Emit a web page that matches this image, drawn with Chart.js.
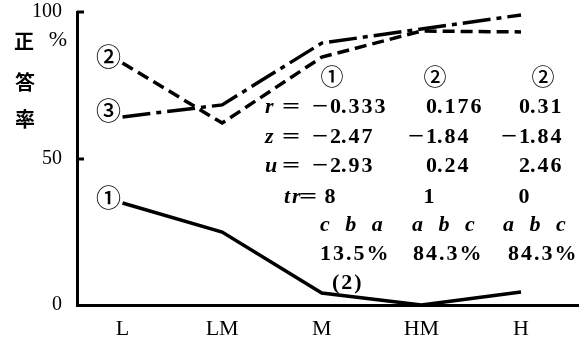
<!DOCTYPE html>
<html>
<head>
<meta charset="utf-8">
<script src="https://cdn.jsdelivr.net/npm/chart.js@4.4.1/dist/chart.umd.min.js"></script>
<style>
  html, body { margin: 0; padding: 0; background: #fff; }
  #wrap { width: 585px; height: 347px; position: relative; }
</style>
</head>
<body>
<div id="wrap"><canvas id="chart"></canvas></div>
<script>
// categories and the three items (percent correct)
const categories = ['L', 'LM', 'M', 'HM', 'H'];
const item1 = [34.8, 24.9, 4.1, 0, 4.4];
const item2 = [82.6, 62.1, 84.6, 93.5, 93.2];
const item3 = [64.2, 68.3, 89.4, 94.2, 99.0];
const seriesMarks = ['①', '②', '③'];
const yTicks = [0, 50, 100];

// statistics printed inside the plot
const statHeads = ['①', '②', '②'];
const rStats = ['−0.333', '0.176', '0.31'];
const zStats = ['−2.47', '−1.84', '−1.84'];
const uStats = ['−2.93', '0.24', '2.46'];
const trStats = ['8', '1', '0'];
const orderStats = ['c b a', 'a b c', 'a b c'];
const pctStats = ['13.5%', '84.3%', '84.3%'];
const noteText = '(2)';

const NUM_FONT = 'bold 22px "Liberation Serif"';
const ITAL_FONT = 'italic bold 22px "Liberation Serif"';
const CJK_FONT = '"Noto Sans CJK JP"';

const toPoints = arr => arr.map((v, i) => ({ x: i, y: v }));

// stretched glyph ("=" and "−" are wide in the printed original)
function wideText(ctx, t, x, y, sx) {
  ctx.save();
  ctx.translate(x, y);
  ctx.scale(sx, 1);
  ctx.textAlign = 'left';
  ctx.fillText(t, 0, 0);
  ctx.restore();
}

const textPlugin = {
  id: 'textPlugin',
  afterDraw(chart) {
    const ctx = chart.ctx;
    const ys = chart.scales.y;
    const area = chart.chartArea;
    ctx.save();
    ctx.fillStyle = '#000';
    ctx.strokeStyle = '#000';

    // inward tick marks on the y axis
    ctx.lineWidth = 3;
    yTicks.filter(v => v > 0).forEach(v => {
      const py = Math.round(ys.getPixelForValue(v));
      ctx.beginPath();
      ctx.moveTo(area.left, py);
      ctx.lineTo(area.left + 7, py);
      ctx.stroke();
    });

    // axis title 正答率 %
    ctx.textBaseline = 'middle';
    ctx.textAlign = 'center';
    ctx.font = 'bold 20px ' + CJK_FONT;
    ctx.fillText('正', 24, 41);
    ctx.fillText('答', 25, 82);
    ctx.fillText('率', 25, 119);
    ctx.font = '22px "Liberation Serif"';
    ctx.fillText('%', 58, 40);

    // circled series marks at the start of each line
    ctx.font = '500 25px ' + CJK_FONT;
    chart.data.datasets.forEach((ds, i) => {
      const p = chart.getDatasetMeta(i).data[0];
      ctx.fillText(seriesMarks[i], p.x - 14, p.y - 6);
    });

    // table heads
    ctx.font = '500 23px ' + CJK_FONT;
    const colCenters = [332, 435, 543];
    statHeads.forEach((t, i) => ctx.fillText(t, colCenters[i], 76));

    // r, z, u rows, aligned on the decimal point
    const decX = [341, 437, 530];
    ctx.letterSpacing = '2px';
    [['r', rStats, 107], ['z', zStats, 137], ['u', uStats, 166]].forEach(([lab, vals, y]) => {
      ctx.textAlign = 'left';
      ctx.font = ITAL_FONT;
      ctx.fillText(lab, 265, y);
      ctx.font = NUM_FONT;
      wideText(ctx, '=', 282, y, 1.45);
      vals.forEach((v, i) => {
        const neg = v.startsWith('−');
        const num = neg ? v.slice(1) : v;
        const k = num.indexOf('.');
        const head = num.slice(0, k);
        ctx.textAlign = 'right';
        ctx.fillText(head, decX[i] + 2, y);
        ctx.textAlign = 'left';
        ctx.fillText(num.slice(k), decX[i], y);
        if (neg) {
          const left = decX[i] + 2 - ctx.measureText(head).width;
          wideText(ctx, '−', left - 18, y, 1.3);
        }
      });
    });

    // tr row
    ctx.textAlign = 'left';
    ctx.font = ITAL_FONT;
    ctx.fillText('tr', 284, 197);
    ctx.font = NUM_FONT;
    wideText(ctx, '=', 299, 197, 1.45);
    ctx.textAlign = 'center';
    [331, 430, 525].forEach((x, i) => ctx.fillText(trStats[i], x, 197));

    // option order row
    ctx.textAlign = 'left';
    ctx.font = ITAL_FONT;
    ctx.letterSpacing = '5px';
    [320, 412, 503].forEach((x, i) => ctx.fillText(orderStats[i], x, 225));

    // percent row
    ctx.font = NUM_FONT;
    ctx.letterSpacing = '2px';
    [320, 413, 508].forEach((x, i) => ctx.fillText(pctStats[i], x, 254));
    ctx.fillText(noteText, 332, 283);

    ctx.restore();
  }
};

new Chart(document.getElementById('chart'), {
  type: 'line',
  data: {
    datasets: [
      { label: '①', data: toPoints(item1), borderColor: '#000', borderWidth: 3.5 },
      { label: '②', data: toPoints(item2), borderColor: '#000', borderWidth: 3.5, borderDash: [12, 6] },
      { label: '③', data: toPoints(item3), borderColor: '#000', borderWidth: 3.5, borderDash: [28, 6, 5, 6] }
    ]
  },
  options: {
    responsive: true,
    maintainAspectRatio: false,
    animation: false,
    layout: { padding: { top: 12, right: 7, left: 0, bottom: 0 } },
    elements: {
      point: { radius: 0 },
      line: { tension: 0, fill: false, borderCapStyle: 'butt', borderJoinStyle: 'miter' }
    },
    plugins: {
      legend: { display: false },
      tooltip: { enabled: false }
    },
    scales: {
      x: {
        type: 'linear',
        min: -0.457,
        max: 4.572,
        grid: { display: false, drawTicks: false },
        border: { display: true, color: '#000', width: 3 },
        afterFit: s => {
          s.height = 42;
          s.paddingLeft = 0; s.paddingRight = 0;
        },
        afterBuildTicks: s => { s.ticks = categories.map((c, i) => ({ value: i })); },
        ticks: {
          padding: 11,
          color: '#000',
          font: { family: 'Liberation Serif', size: 22 },
          maxRotation: 0,
          autoSkip: false,
          callback: v => categories[v]
        }
      },
      y: {
        min: 0,
        max: 100,
        grid: { display: false, drawTicks: false },
        border: { display: true, color: '#000', width: 3 },
        afterFit: s => {
          s.width = 77;
          s.paddingTop = 0; s.paddingBottom = 0;
        },
        afterBuildTicks: s => { s.ticks = yTicks.map(v => ({ value: v })); },
        ticks: {
          padding: 15,
          color: '#000',
          font: { family: 'Liberation Serif', size: 20 }
        }
      }
    }
  },
  plugins: [textPlugin]
});
</script>
</body>
</html>
